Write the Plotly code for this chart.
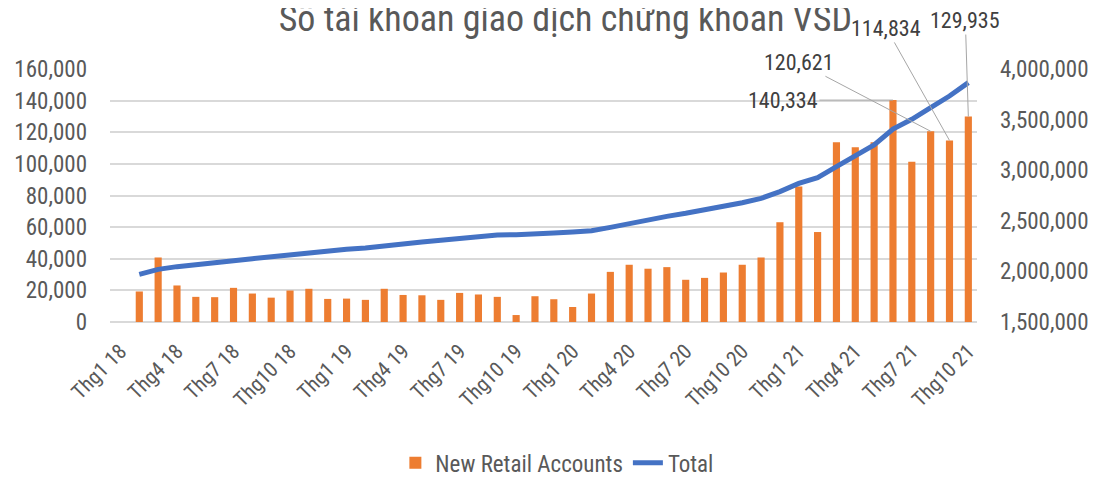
import plotly.graph_objects as go

# ---- data ----
years = ["18", "19", "20", "21"]
month_labels = []
for y in years:
    for m in range(1, 13):
        month_labels.append(f"Thg{m} {y}")
month_labels = month_labels[:46]  # Jan 2018 .. Oct 2021

new_accounts = (
    [None]  # Jan 18 (no data)
    + [19300, 40800, 23100, 15900, 15700, 21600, 18000, 15400, 19900, 21000, 14600]          # Feb-Dec 18
    + [14800, 14000, 21000, 17100, 16900, 14000, 18400, 17400, 15900, 4400, 16300, 14400]    # 2019
    + [9500, 18000, 31700, 36200, 33700, 34700, 26700, 27900, 31300, 36200, 40800, 63100]    # 2020
    + [85700, 56900, 113600, 110500, 113600, 140334, 101400, 120621, 114834, 129935]         # Jan-Oct 21
)
total_accounts = (
    [None]
    + [1971000, 2020000, 2047000, 2063000, 2083000, 2106000, 2126000, 2146000, 2169000, 2188000, 2205000]
    + [2218000, 2231000, 2254000, 2271000, 2291000, 2307000, 2327000, 2343000, 2360000, 2363000, 2376000, 2379000]
    + [2389000, 2402000, 2435000, 2475000, 2508000, 2544000, 2574000, 2607000, 2640000, 2679000, 2722000, 2788000]
    + [2870000, 2926000, 3035000, 3140000, 3249000, 3407000, 3503000, 3618000, 3733000, 3865000]
)

tick_labels = month_labels[::3]
left_ticks = list(range(0, 160001, 20000))
right_ticks = list(range(1500000, 4000001, 500000))

labelled = {"Thg6 21": 140334, "Thg8 21": 120621, "Thg9 21": 114834, "Thg10 21": 129935}
label_offsets = {"Thg6 21": (-110, 0), "Thg8 21": (-132, -69), "Thg9 21": (-63, -112), "Thg10 21": (-3, -96)}

FONT = "Liberation Sans Narrow, Roboto Condensed, DejaVu Sans Condensed, sans-serif"
GREY = "#595959"

fig = go.Figure()
fig.add_trace(go.Bar(
    x=month_labels, y=new_accounts, name="New Retail Accounts",
    marker=dict(color="#ED7D31", line=dict(width=0)), yaxis="y",
))
fig.add_trace(go.Scatter(
    x=month_labels, y=total_accounts, name="Total", mode="lines",
    line=dict(color="#4472C4", width=5), yaxis="y2",
))

for k, v in labelled.items():
    ax, ay = label_offsets[k]
    fig.add_annotation(
        x=k, y=v, xref="x", yref="y", text=f"{v:,}",
        showarrow=True, arrowhead=0, arrowwidth=1, arrowcolor="#A6A6A6",
        ax=ax, ay=ay, font=dict(family=FONT, size=22, color="#404040"),
    )

# the page body adds an 8px margin, so the figure is sized/placed to compensate
fig.update_layout(
    width=1095, height=469,
    margin=dict(l=102, r=126, t=61, b=155, autoexpand=False),
    paper_bgcolor="white", plot_bgcolor="white",
    bargap=0.62,
    font=dict(family=FONT, size=22, color=GREY),
    title=dict(
        text="Số tài khoản giao dịch chứng khoán VSD",
        font=dict(family=FONT, size=36, color=GREY),
        x=0.509, xanchor="center", xref="container",
        y=0.952, yanchor="bottom", yref="container",
    ),
    xaxis=dict(
        type="category", tickmode="array", tickvals=tick_labels, ticktext=tick_labels,
        tickangle=-45, tickfont=dict(size=21, color=GREY), showgrid=False,
        showline=False, ticks="", range=[-0.555, 45.46], automargin=False,
        ticklabelstandoff=12,
    ),
    yaxis=dict(
        range=[0, 160000], tickvals=left_ticks, tickformat=",d",
        showgrid=True, gridcolor="#D9D9D9", gridwidth=1.5, zeroline=True,
        zerolinecolor="#D9D9D9", zerolinewidth=1.5, ticklabelstandoff=22,
        tickfont=dict(size=23, color=GREY), automargin=False,
    ),
    yaxis2=dict(
        range=[1500000, 4000000], tickvals=right_ticks, tickformat=",d",
        overlaying="y", side="right", showgrid=False, zeroline=False,
        ticklabelstandoff=22, tickfont=dict(size=23, color=GREY), automargin=False,
    ),
    legend=dict(
        orientation="h", x=0.516, xanchor="center", y=-0.557, yanchor="middle",
        font=dict(size=23, color=GREY), traceorder="normal",
    ),
    showlegend=True,
)

fig.write_html("out.html")
